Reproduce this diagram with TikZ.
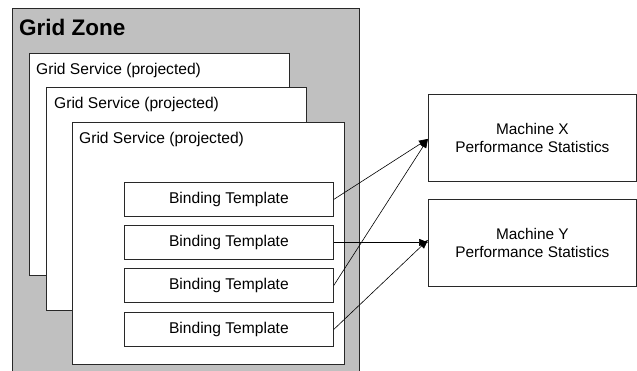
\documentclass[tikz,border=0pt]{standalone}
\usepackage{fontspec}
\setmainfont{Liberation Sans}
\usetikzlibrary{arrows.meta}
\definecolor{zonegray}{RGB}{192,192,192}
\definecolor{edge}{RGB}{40,40,40}
\tikzset{
  box/.style={draw=edge, fill=white, line width=0.8pt},
  lbl/.style={font=\fontsize{15.6}{18}\selectfont, inner sep=0pt, anchor=base west},
  bt/.style={box, minimum width=209pt, minimum height=34pt, font=\fontsize{15.6}{18}\selectfont, anchor=north west},
  mach/.style={box, minimum width=208pt, minimum height=87pt, align=center, font=\fontsize{15.4}{18}\selectfont, anchor=north west},
  conn/.style={draw=black, line width=0.6pt, -{Triangle[length=9pt,width=7pt]}}
}
\begin{document}
\begin{tikzpicture}[x=1pt,y=-1pt]
\useasboundingbox (0,0) rectangle (637,371);
\fill[white] (0,0) rectangle (637,371);
% zone
\draw[draw=edge, fill=zonegray, line width=0.8pt] (12,376) -- (12,8) -- (359,8) -- (359,376);
\node[lbl, font=\fontsize{22.5}{26}\selectfont\bfseries] (zone) at (19,36) {Grid Zone};
% services
\draw[box] (29,53) rectangle (289,275);
\node[lbl] (s1) at (36,75) {Grid Service (projected)};
\draw[box] (46,87) rectangle (306,310);
\node[lbl] (s2) at (54,109) {Grid Service (projected)};
\draw[box] (72,122) rectangle (344,364);
\node[lbl] (s3) at (79,144) {Grid Service (projected)};
% binding templates
\node[bt] (b1) at (124,182) {Binding Template};
\node[bt] (b2) at (124,225) {Binding Template};
\node[bt] (b3) at (124,268) {Binding Template};
\node[bt] (b4) at (124,312) {Binding Template};
% machines
\node[mach] (mx) at (428,94) {Machine X\\Performance Statistics};
\node[mach] (my) at (428,199) {Machine Y\\Performance Statistics};
% connectors
\coordinate (tx) at ([yshift=-1pt]mx.west);
\coordinate (ty) at (my.west);
\draw[conn] (b1.east) -- (tx);
\draw[conn] (b3.east) -- (tx);
\draw[conn] (b2.east) -- (b2.east -| ty);
\draw[conn] (b4.east) -- ([yshift=3pt]ty);
\end{tikzpicture}
\end{document}
